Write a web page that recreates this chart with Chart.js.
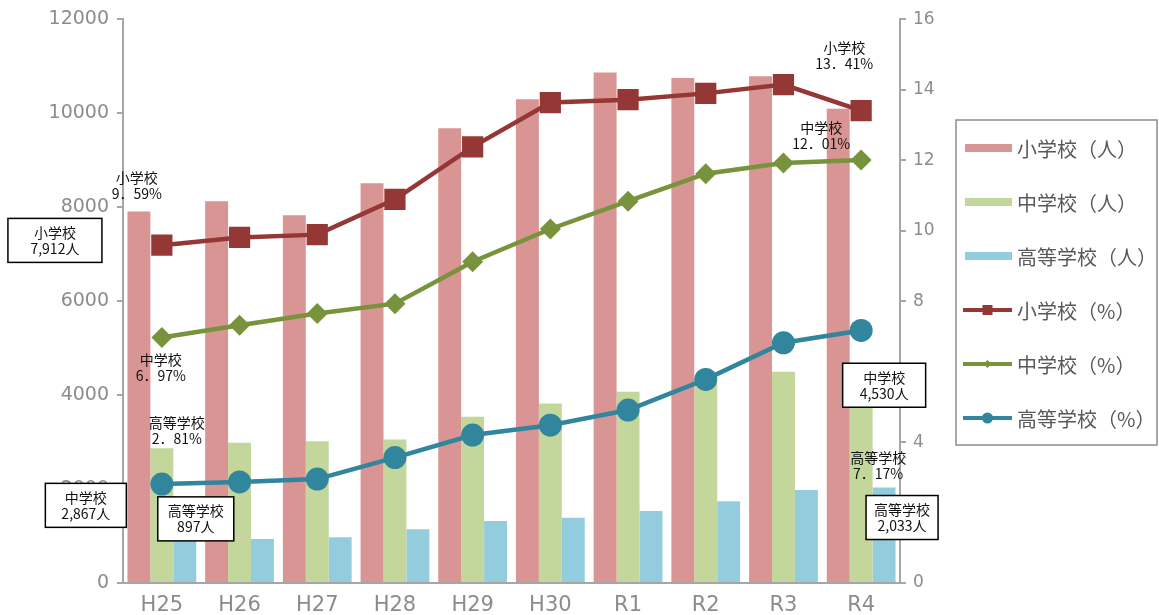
<!DOCTYPE html>
<html>
<head>
<meta charset="utf-8">
<script src="https://cdn.jsdelivr.net/npm/chart.js@4"></script>
<style>
  html, body { margin: 0; padding: 0; background: #ffffff; }
  #wrap { width: 1159px; height: 615px; }
</style>
</head>
<body>
<div id="wrap"><canvas id="chart" width="1159" height="615"></canvas></div>
<script>
// School years
const years = ['H25', 'H26', 'H27', 'H28', 'H29', 'H30', 'R1', 'R2', 'R3', 'R4'];

// Number of students (人)
const elemCount   = [7912, 8130, 7830, 8510, 9680, 10300, 10870, 10750, 10790, 10099];
const juniorCount = [2867, 2985, 3020, 3057, 3540, 3820, 4070, 4250, 4496, 4530];
const highCount   = [897, 936, 972, 1142, 1319, 1390, 1532, 1738, 1979, 2033];

// Rate (%)
const elemRate   = [9.59, 9.81, 9.89, 10.89, 12.38, 13.64, 13.72, 13.90, 14.15, 13.41];
const juniorRate = [6.97, 7.32, 7.65, 7.93, 9.12, 10.05, 10.84, 11.62, 11.92, 12.01];
const highRate   = [2.81, 2.87, 2.95, 3.56, 4.20, 4.48, 4.91, 5.78, 6.82, 7.17];

// Axis ticks
const countTicks = [0, 2000, 4000, 6000, 8000, 10000, 12000];
const rateTicks  = [0, 2, 4, 6, 8, 10, 12, 14, 16];

const schools = ['小学校', '中学校', '高等学校'];

const CJK = '"Noto Sans CJK JP", "Noto Sans", sans-serif';
const AXIS_FONT = '"DejaVu Sans", "Open Sans", sans-serif';
const AXIS_GRAY = '#a6a6a6';
const LABEL_GRAY = '#8c8c8c';

const colors = {
  elemBar: '#d99594', juniorBar: '#c3d69b', highBar: '#93cddd',
  elemLine: '#953735', juniorLine: '#77933c', highLine: '#31859c'
};

function fmtCount(v) { return v.toLocaleString('en-US') + '人'; }
function fmtRate(v) { return v.toFixed(2).replace('.', '．') + '%'; }

// Callouts: anchored to a data element, offset in pixels
const callouts = [
  { ds: 3, i: 0, dx: -25, dy: -60, box: false },
  { ds: 0, i: 0, dx: -84, dy: 29, box: true, w: 94 },
  { ds: 4, i: 0, dx: -1, dy: 30, box: false },
  { ds: 5, i: 0, dx: 15, dy: -53, box: false },
  { ds: 1, i: 0, dx: -76, dy: 57, box: true, w: 81 },
  { ds: 2, i: 0, dx: 11, dy: -22, box: true, w: 76 },
  { ds: 3, i: 9, dx: -17, dy: -55, box: false },
  { ds: 4, i: 9, dx: -40, dy: -24, box: false },
  { ds: 0, i: 9, dx: -13, dy: -259, box: true, w: 94 },
  { ds: 1, i: 9, dx: 23, dy: 15, box: true, w: 83 },
  { ds: 5, i: 9, dx: 17, dy: 135, box: false },
  { ds: 2, i: 9, dx: 18, dy: 30, box: true, w: 72 }
];

const calloutPlugin = {
  id: 'callouts',
  afterDatasetsDraw(chart) {
    const ctx = chart.ctx;
    ctx.save();
    ctx.font = '14px ' + CJK;
    ctx.textAlign = 'center';
    ctx.textBaseline = 'middle';
    callouts.forEach(c => {
      const el = chart.getDatasetMeta(c.ds).data[c.i];
      const value = chart.data.datasets[c.ds].data[c.i];
      const school = schools[c.ds % 3];
      const second = c.ds < 3 ? fmtCount(value) : fmtRate(value);
      const cx = el.x + c.dx;
      const cy = el.y + c.dy;
      if (c.box) {
        const h = 44;
        ctx.fillStyle = '#ffffff';
        ctx.fillRect(cx - c.w / 2, cy - h / 2, c.w, h);
        ctx.strokeStyle = '#000000';
        ctx.lineWidth = 1.5;
        ctx.strokeRect(cx - c.w / 2, cy - h / 2, c.w, h);
      }
      ctx.fillStyle = '#111111';
      ctx.fillText(school, cx, cy - 8);
      ctx.fillText(second, cx, cy + 8);
    });
    ctx.restore();
  }
};

const legendPlugin = {
  id: 'boxLegend',
  afterDraw(chart) {
    const ctx = chart.ctx;
    const left = 956, top = 120, right = 1157, bottom = 445;
    ctx.save();
    ctx.strokeStyle = '#8c8c8c';
    ctx.lineWidth = 1.5;
    ctx.strokeRect(left, top, right - left, bottom - top);
    ctx.font = '20px ' + CJK;
    ctx.textAlign = 'left';
    ctx.textBaseline = 'middle';
    chart.data.datasets.forEach((ds, k) => {
      const y = top + 28 + k * 54;
      if (ds.type === 'line') {
        ctx.strokeStyle = ds.borderColor;
        ctx.lineWidth = 4;
        ctx.beginPath();
        ctx.moveTo(963, y);
        ctx.lineTo(1012, y);
        ctx.stroke();
        ctx.fillStyle = ds.borderColor;
        const mx = 987.5;
        ctx.beginPath();
        if (ds.pointStyle === 'rect') {
          ctx.rect(mx - 5, y - 5, 10, 10);
        } else if (ds.pointStyle === 'rectRot') {
          ctx.moveTo(mx, y - 4); ctx.lineTo(mx + 4, y); ctx.lineTo(mx, y + 4); ctx.lineTo(mx - 4, y);
          ctx.closePath();
        } else {
          ctx.arc(mx, y, 5.5, 0, Math.PI * 2);
        }
        ctx.fill();
      } else {
        ctx.fillStyle = ds.backgroundColor;
        ctx.fillRect(965, y - 4, 47, 8);
      }
      ctx.fillStyle = '#595959';
      ctx.fillText(ds.label, 1017, y + 1);
    });
    ctx.restore();
  }
};

const data = {
  labels: years,
  datasets: [
    { type: 'bar', label: '小学校（人）', data: elemCount, backgroundColor: colors.elemBar, yAxisID: 'y', order: 2 },
    { type: 'bar', label: '中学校（人）', data: juniorCount, backgroundColor: colors.juniorBar, yAxisID: 'y', order: 2 },
    { type: 'bar', label: '高等学校（人）', data: highCount, backgroundColor: colors.highBar, yAxisID: 'y', order: 2 },
    { type: 'line', label: '小学校（%）', data: elemRate, borderColor: colors.elemLine, backgroundColor: colors.elemLine,
      pointStyle: 'rect', pointRadius: 15, pointBorderWidth: 0, borderWidth: 4.5, yAxisID: 'y1', order: 1 },
    { type: 'line', label: '中学校（%）', data: juniorRate, borderColor: colors.juniorLine, backgroundColor: colors.juniorLine,
      pointStyle: 'rectRot', pointRadius: 10.5, pointBorderWidth: 0, borderWidth: 4.5, yAxisID: 'y1', order: 1 },
    { type: 'line', label: '高等学校（%）', data: highRate, borderColor: colors.highLine, backgroundColor: colors.highLine,
      pointStyle: 'circle', pointRadius: 11.5, pointBorderWidth: 0, borderWidth: 4.5, yAxisID: 'y1', order: 1 }
  ]
};

new Chart(document.getElementById('chart'), {
  data,
  plugins: [calloutPlugin, legendPlugin],
  options: {
    responsive: false,
    animation: false,
    devicePixelRatio: 1,
    layout: { padding: { top: 19, bottom: 0, left: 0, right: 0 } },
    datasets: {
      bar: { categoryPercentage: 0.885, barPercentage: 1.0 },
      line: { tension: 0 }
    },
    plugins: { legend: { display: false }, tooltip: { enabled: false } },
    scales: {
      x: {
        grid: { display: false, drawTicks: false },
        border: { display: true, color: AXIS_GRAY, width: 2 },
        ticks: { color: LABEL_GRAY, font: { family: AXIS_FONT, size: 21 }, padding: 10, maxRotation: 0 },
        afterFit(s) { s.height = 32; }
      },
      y: {
        position: 'left',
        min: 0, max: 12000,
        afterBuildTicks(s) { s.ticks = countTicks.map(v => ({ value: v })); },
        grid: { drawOnChartArea: false, drawTicks: true, tickLength: 6, color: AXIS_GRAY, lineWidth: 2 },
        border: { display: true, color: AXIS_GRAY, width: 2 },
        ticks: { color: LABEL_GRAY, font: { family: AXIS_FONT, size: 19 }, padding: 8, callback: v => String(v) },
        afterFit(s) { s.width = 123; }
      },
      y1: {
        position: 'right',
        min: 0, max: 16,
        afterBuildTicks(s) { s.ticks = rateTicks.map(v => ({ value: v })); },
        grid: { drawOnChartArea: false, drawTicks: true, tickLength: 6, color: AXIS_GRAY, lineWidth: 2 },
        border: { display: true, color: AXIS_GRAY, width: 2 },
        ticks: { color: LABEL_GRAY, font: { family: AXIS_FONT, size: 17 }, padding: 7, callback: v => String(v) },
        afterFit(s) { s.width = 259; }
      }
    }
  }
});
</script>
</body>
</html>
